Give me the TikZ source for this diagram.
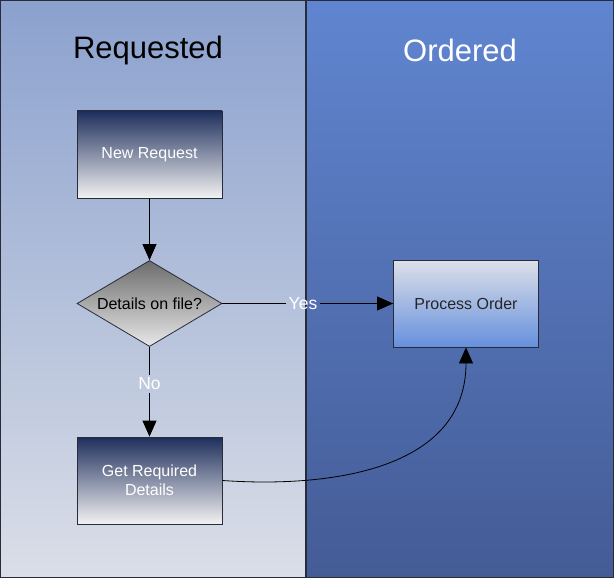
\documentclass[tikz,border=0pt]{standalone}
\usepackage{fontspec}
\setmainfont{Liberation Sans}
\usetikzlibrary{arrows.meta,shapes.geometric}

\definecolor{laneAtop}{RGB}{139,161,206}
\definecolor{laneAbot}{RGB}{218,222,231}
\definecolor{laneBtop}{RGB}{96,133,208}
\definecolor{laneBbot}{RGB}{68,92,150}
\definecolor{boxtop}{RGB}{30,46,92}
\definecolor{boxbot}{RGB}{242,242,242}
\definecolor{dectop}{RGB}{108,108,108}
\definecolor{decbot}{RGB}{232,232,232}
\definecolor{proctop}{RGB}{221,224,232}
\definecolor{procbot}{RGB}{102,144,221}
\definecolor{rand}{RGB}{40,44,58}

\tikzset{
  taak/.style={draw=rand, line width=0.8pt, minimum width=145pt,
    minimum height=87pt, inner sep=2pt, align=center, text=white,
    top color=boxtop, bottom color=boxbot,
    font=\fontsize{16}{19}\selectfont},
  keuze/.style={diamond, draw=rand, line width=0.8pt, minimum width=145pt,
    minimum height=86pt, inner sep=0pt, aspect=1.69,
    top color=dectop, bottom color=decbot,
    font=\fontsize{16}{19}\selectfont},
  label/.style={text=white, inner sep=2.5pt,
    font=\fontsize{17.5}{20}\selectfont},
  kop/.style={font=\fontsize{31}{36}\selectfont},
}

\begin{document}
\begin{tikzpicture}[x=1pt, y=-1pt, >={Triangle[width=14pt,length=16pt]}]

  \useasboundingbox (0,0) rectangle (614,578);

  % Banen
  \shade[top color=laneAtop, bottom color=laneAbot] (0,0) rectangle (306,578);
  \shade[top color=laneBtop, bottom color=laneBbot] (306,0) rectangle (614,578);
  \draw[rand, line width=2pt] (306,0) -- (306,578);
  \draw[rand, line width=1pt] (0.5,0.5) rectangle (613.5,577.5);

  \node[kop] (requested) at (148,50) {Requested};
  \node[kop, text=white] (ordered) at (460,50) {Ordered};

  % Stappen
  \node[taak] (nieuw) at (149.5,154.5) {New Request};
  \node[keuze] (dec) at (149.5,303.5) {Details on file?};
  \node[taak] (details) at (149.5,480.5) {Get Required\\Details};
  \node[taak, text=black!85, top color=proctop, bottom color=procbot]
    (proc) at (466,303.5) {Process Order};

  % Labels
  \node[label, anchor=base, yshift=-6pt] (yes) at (303,303.5) {Yes};
  \node[label] (no) at (149.5,384) {No};

  % Pijlen
  \draw[->, line width=0.8pt] (nieuw.south) -- (dec.north);
  \draw[line width=0.8pt] (dec.east) -- (yes.west |- dec.east);
  \draw[->, line width=0.8pt] (yes.east |- proc.west) -- (proc.west);
  \draw[line width=0.8pt] (dec.south) -- (no.north);
  \draw[->, line width=0.8pt] (no.south) -- (details.north);
  \draw[->, line width=0.8pt]
    (details.east) .. controls (330,488) and (466,470) .. (proc.south);

\end{tikzpicture}
\end{document}
